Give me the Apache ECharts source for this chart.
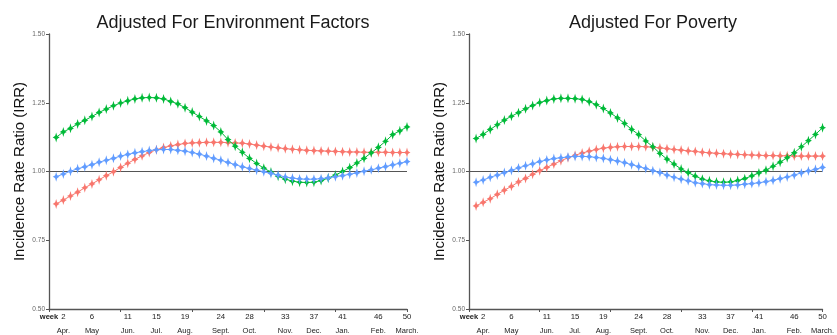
<!DOCTYPE html>
<html>
<head>
<meta charset="utf-8">
<script src="https://cdn.jsdelivr.net/npm/echarts@6/dist/echarts.min.js"></script>
<style>html,body{margin:0;padding:0;background:#fff;}#c{width:837px;height:335px;}</style>
</head>
<body>
<div id="c"></div>
<script>
var weeks = [];
for (var i = 1; i <= 50; i++) weeks.push(i);

var titles = ['Adjusted For Environment Factors', 'Adjusted For Poverty'];
var yName = 'Incidence Rate Ratio (IRR)';
var yTicks = [0.5, 0.75, 1.0, 1.25, 1.5];
var weekTicks = [2, 6, 11, 15, 19, 24, 28, 33, 37, 41, 46, 50];
var monthTicks = ['Apr.', 'May', 'Jun.', 'Jul.', 'Aug.', 'Sept.', 'Oct.', 'Nov.', 'Dec.', 'Jan.', 'Feb.', 'March.'];

// Panel 1: Adjusted For Environment Factors
var envRed = [0.882,0.896,0.911,0.925,0.941,0.955,0.970,0.985,0.999,1.015,1.030,1.044,1.057,1.069,1.079,1.087,1.093,1.098,1.102,1.104,1.105,1.106,1.106,1.106,1.105,1.104,1.103,1.100,1.096,1.092,1.089,1.086,1.083,1.081,1.079,1.077,1.076,1.075,1.074,1.073,1.072,1.071,1.071,1.070,1.070,1.070,1.070,1.069,1.069,1.069];
var envGreen = [1.124,1.144,1.157,1.173,1.186,1.200,1.215,1.227,1.239,1.249,1.257,1.264,1.268,1.269,1.268,1.264,1.255,1.246,1.232,1.216,1.200,1.184,1.167,1.144,1.116,1.092,1.070,1.048,1.029,1.012,0.998,0.983,0.972,0.965,0.961,0.960,0.961,0.967,0.976,0.987,1.000,1.014,1.031,1.048,1.068,1.088,1.110,1.134,1.148,1.162];
var envBlue = [0.981,0.991,1.001,1.010,1.017,1.025,1.034,1.041,1.048,1.056,1.062,1.068,1.072,1.076,1.079,1.080,1.080,1.077,1.074,1.069,1.063,1.056,1.048,1.041,1.033,1.025,1.017,1.011,1.005,0.999,0.993,0.987,0.980,0.976,0.973,0.972,0.972,0.974,0.977,0.981,0.985,0.990,0.995,1.001,1.006,1.012,1.018,1.024,1.030,1.036];

// Panel 2: Adjusted For Poverty
var povRed = [0.875,0.888,0.901,0.917,0.932,0.946,0.962,0.975,0.990,1.003,1.015,1.027,1.039,1.050,1.059,1.067,1.074,1.080,1.085,1.088,1.090,1.091,1.091,1.091,1.090,1.088,1.086,1.083,1.080,1.078,1.075,1.073,1.070,1.068,1.066,1.065,1.063,1.062,1.061,1.060,1.059,1.058,1.058,1.057,1.057,1.056,1.056,1.056,1.056,1.056];
var povGreen = [1.120,1.135,1.153,1.170,1.187,1.201,1.214,1.228,1.240,1.251,1.258,1.264,1.266,1.266,1.265,1.262,1.254,1.243,1.229,1.213,1.195,1.175,1.153,1.134,1.111,1.090,1.066,1.045,1.027,1.009,0.996,0.983,0.972,0.966,0.962,0.961,0.962,0.967,0.974,0.984,0.995,1.005,1.019,1.034,1.050,1.068,1.090,1.112,1.135,1.159];
var povBlue = [0.961,0.969,0.979,0.987,0.996,1.004,1.013,1.021,1.028,1.036,1.042,1.047,1.050,1.053,1.055,1.055,1.054,1.051,1.048,1.043,1.038,1.032,1.025,1.018,1.011,1.003,0.996,0.987,0.979,0.972,0.966,0.959,0.956,0.952,0.951,0.950,0.950,0.951,0.954,0.956,0.959,0.963,0.968,0.974,0.980,0.987,0.995,1.002,1.008,1.015];

var RED = '#F8766D', GREEN = '#00BA38', BLUE = '#619CFF';
var FONT = '"Liberation Sans", Arial, Helvetica, sans-serif';
var STAR = 'path://M0,-6 L1,-2.2 L2.2,-1 L4,0 L2.2,1 L1,2.2 L0,6 L-1,2.2 L-2.2,1 L-4,0 L-2.2,-1 L-1,-2.2 Z';

function pairs(vals) {
  return weeks.map(function (w, i) { return [w, vals[i]]; });
}

var grids = [
  { left: 49, width: 358, top: 34, height: 276 },
  { left: 469, width: 358, top: 34, height: 276 }
];

var xAxes = [], yAxes = [], series = [], titleArr = [];
var panelData = [[envRed, envGreen, envBlue], [povRed, povGreen, povBlue]];

grids.forEach(function (g, gi) {
  titleArr.push({
    text: titles[gi],
    left: g.left + g.width / 2,
    textAlign: 'center',
    top: 9,
    textStyle: { fontFamily: FONT, fontSize: 18, fontWeight: 'normal', color: '#1a1a1a' }
  });
  xAxes.push({
    type: 'value', gridIndex: gi, min: 0, max: 50, interval: 10, position: 'bottom',
    axisLine: { show: true, lineStyle: { color: '#555', width: 1.3 } },
    axisTick: { show: true, length: 3, lineStyle: { color: '#555' } },
    axisLabel: { show: false },
    splitLine: { show: false }
  });
  xAxes.push({
    type: 'value', gridIndex: gi, min: 0, max: 50, interval: 1, position: 'bottom', offset: 0,
    axisLine: { show: false }, axisTick: { show: false }, splitLine: { show: false },
    axisLabel: {
      show: true, margin: 1, showMinLabel: true, showMaxLabel: true,
      formatter: function (v) {
        if (v === 0) return '{w|week}\n{m| }';
        var k = weekTicks.indexOf(v);
        if (k < 0) return '';
        return '{n|' + v + '}\n{m|' + monthTicks[k] + '}';
      },
      rich: {
        w: { fontFamily: FONT, fontSize: 7.5, fontWeight: 'bold', color: '#222', lineHeight: 14 },
        n: { fontFamily: FONT, fontSize: 7.8, color: '#222', lineHeight: 14 },
        m: { fontFamily: FONT, fontSize: 7.5, color: '#222', lineHeight: 14 }
      }
    }
  });
  yAxes.push({
    type: 'value', gridIndex: gi, min: 0.5, max: 1.5, interval: 0.25,
    name: yName, nameLocation: 'middle', nameGap: 22, nameRotate: 90,
    nameTextStyle: { fontFamily: FONT, fontSize: 15, color: '#111' },
    axisLine: { show: true, lineStyle: { color: '#555', width: 1.3 } },
    axisTick: { show: true, length: 3, lineStyle: { color: '#555' } },
    axisLabel: {
      margin: 4, fontFamily: FONT, fontSize: 6.5, color: '#666',
      formatter: function (v) { return v.toFixed(2); }
    },
    splitLine: { show: false }
  });
  var cols = [RED, GREEN, BLUE];
  panelData[gi].forEach(function (vals, si) {
    var s = {
      type: 'line', xAxisIndex: gi * 2, yAxisIndex: gi, data: pairs(vals),
      symbol: STAR, symbolSize: [7, 10], showSymbol: true,
      lineStyle: { color: cols[si], width: 1 },
      itemStyle: { color: cols[si] },
      z: 3 + si, animation: false, silent: true
    };
    if (si === 0) {
      s.markLine = {
        silent: true, symbol: ['none', 'none'], label: { show: false },
        lineStyle: { color: '#555', width: 1.2, type: 'solid' },
        data: [{ yAxis: 1 }], animation: false, z: 1
      };
    }
    series.push(s);
  });
});

var chart = echarts.init(document.getElementById('c'), null, { renderer: 'canvas' });
chart.setOption({
  animation: false,
  backgroundColor: '#fff',
  title: titleArr,
  grid: grids,
  xAxis: xAxes,
  yAxis: yAxes,
  series: series
});
</script>
</body>
</html>
